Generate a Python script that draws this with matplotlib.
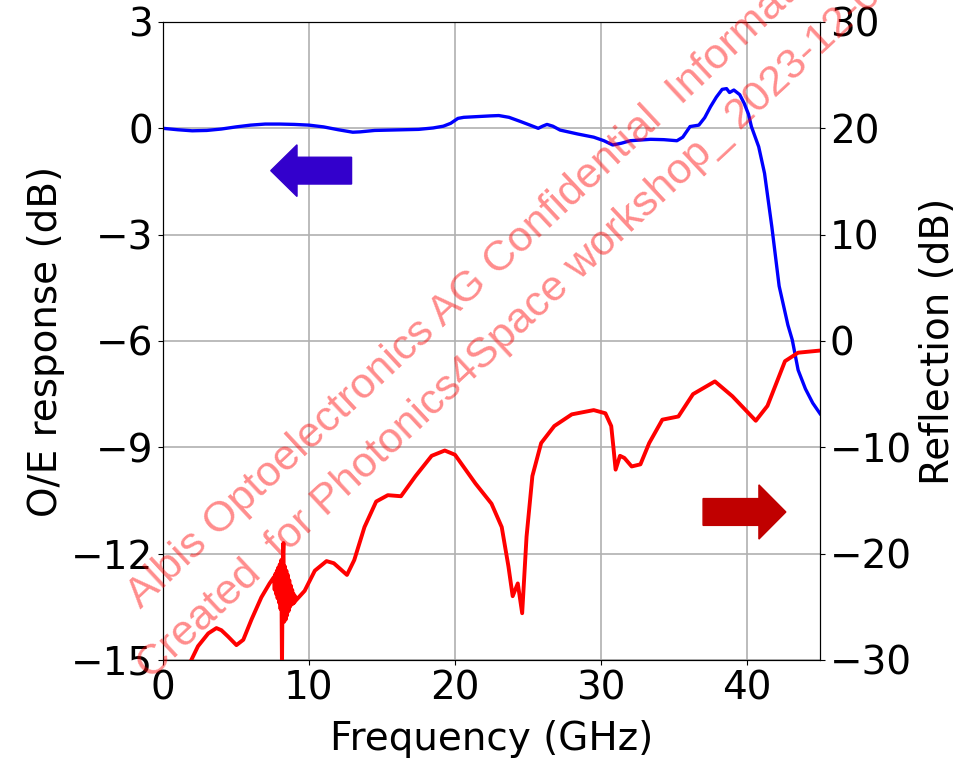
import numpy as np
import matplotlib.pyplot as plt
from matplotlib.patches import FancyArrow

# O/E response (left axis)
oe_freq = [0, 1, 2, 3, 4, 5, 6, 7, 8, 9, 10, 11, 12, 13, 13.5, 14.5, 15.5, 16.5, 17.5, 18.5,
           19.2, 19.7, 20.2, 20.6, 21.5, 22.4, 23.0, 23.7, 24.5, 25.2, 25.7, 26.0, 26.3, 26.7,
           27.2, 28.4, 29.5, 30.2, 30.8, 31.4, 32.0, 32.7, 33.4, 34.3, 35.2, 35.6, 36.1, 36.7,
           37.1, 37.5, 37.9, 38.3, 38.6, 38.8, 39.1, 39.5, 39.8, 40.1, 40.3, 40.8, 41.2, 41.7,
           42.2, 42.8, 43.1, 43.5, 44.0, 44.5, 45.0]
oe_db = [0.0, -0.04, -0.07, -0.06, -0.02, 0.04, 0.09, 0.12, 0.12, 0.11, 0.09, 0.04, -0.04, -0.11,
         -0.10, -0.06, -0.05, -0.04, -0.03, 0.01, 0.06, 0.14, 0.28, 0.31, 0.33, 0.35, 0.36, 0.31,
         0.19, 0.08, 0.0, 0.06, 0.11, 0.06, -0.05, -0.16, -0.25, -0.35, -0.47, -0.42, -0.35, -0.33,
         -0.31, -0.32, -0.35, -0.25, 0.05, 0.09, 0.30, 0.61, 0.88, 1.10, 1.12, 1.01, 1.08, 0.95,
         0.71, 0.40, 0.05, -0.52, -1.27, -2.78, -4.45, -5.55, -5.97, -6.82, -7.35, -7.75, -8.05]

# Reflection (right axis) (incl. the ringing near 8 GHz)
refl_freq = [1.94, 2.4, 3.1, 3.66, 4.0, 4.46, 5.03, 5.5, 6.06, 6.74, 7.3,
             7.60, 7.65, 7.70, 7.75, 7.80, 7.85, 7.90, 7.95, 8.00, 8.05, 8.10, 8.15, 8.20,
             8.25, 8.30, 8.35, 8.40, 8.45, 8.50, 8.55, 8.60, 8.65, 8.70, 8.75, 8.80, 8.85,
             8.90, 8.95, 9.00, 9.05, 9.10,
             9.7, 10.4, 11.2, 11.7, 12.6, 13.1, 13.8, 14.6, 15.4, 16.3, 17.3, 18.4,
             19.3, 20.0, 21.4, 22.5, 23.2, 23.66, 23.95, 24.3, 24.6, 24.75, 24.9, 25.3, 25.9,
             26.8, 28.0, 29.5, 30.3, 30.7, 30.85, 31.0, 31.3, 31.6, 32.1, 32.7, 33.3, 34.2,
             35.3, 36.3, 37.8, 39.0, 40.6, 41.4, 42.6, 43.5, 45.0]
refl_db = [-30.0, -28.7, -27.5, -27.0, -27.2, -27.8, -28.6, -28.1, -26.2, -24.1, -22.8,
           -22.2, -23.4, -21.9, -23.8, -21.6, -24.2, -21.3, -24.6, -21.0, -25.2, -20.6, -31.0,
           -20.8, -19.0, -26.4, -21.2, -26.2, -21.6, -25.8, -22.0, -25.4, -22.5, -25.0, -23.0,
           -24.8, -23.4, -24.7, -23.8, -24.6, -24.0, -24.4,
           -23.5, -21.6, -20.7, -20.9, -22.0, -20.6, -17.5, -15.1, -14.5, -14.6, -12.7,
           -10.8, -10.3, -10.7, -13.4, -15.3, -17.5, -21.2, -24.0, -22.8, -25.6, -22.0, -18.4,
           -12.7, -9.6, -8.0, -6.9, -6.5, -6.8, -8.0, -10.0, -12.1, -10.8, -11.0, -11.8, -11.6,
           -9.6, -7.4, -7.1, -5.0, -3.8, -5.2, -7.5, -6.1, -1.9, -1.1, -0.9]

left_ticks = [-15, -12, -9, -6, -3, 0, 3]
right_ticks = [-30, -20, -10, 0, 10, 20, 30]
x_ticks = [0, 10, 20, 30, 40]

watermark_1 = "Albis Optoelectronics AG Confidential  Information"
watermark_2 = "Created  for Photonics4Space workshop_ 2023-12-07"

plt.rcParams['font.size'] = 28

fig = plt.figure(figsize=(9.61, 7.58), dpi=100)
ax1 = fig.add_axes([0.1696, 0.1293, 0.6837, 0.8417])
ax1.plot(oe_freq, oe_db, color='blue', linewidth=2.4)
ax1.set_xlim(0, 45)
ax1.set_ylim(-15, 3)
ax1.set_xticks(x_ticks)
ax1.set_yticks(left_ticks)
ax1.grid(True, color='#b0b0b0', linewidth=1.2)
ax1.set_xlabel("Frequency (GHz)", labelpad=9)
ax1.set_ylabel("O/E response (dB)")

ax2 = ax1.twinx()
ax2.plot(refl_freq, refl_db, color='red', linewidth=2.8)
ax2.set_ylim(-30, 30)
ax2.set_yticks(right_ticks)
ax2.set_ylabel("Reflection (dB)", labelpad=5)

# direction arrows
ax1.add_patch(FancyArrow(0.287, 0.767, -0.123, 0, width=0.042, head_width=0.081,
                         head_length=0.040, length_includes_head=True,
                         color='#3300cc', transform=ax1.transAxes, zorder=5))
ax2.add_patch(FancyArrow(0.822, 0.232, 0.126, 0, width=0.042, head_width=0.085,
                         head_length=0.041, length_includes_head=True,
                         color='#c00000', transform=ax2.transAxes, zorder=5))

# watermark
for txt, x, y in [(watermark_1, 0.147, 0.196), (watermark_2, 0.157, 0.102)]:
    fig.text(x, y, txt, rotation=43, rotation_mode='anchor', ha='left', va='baseline',
             color='red', alpha=0.45, fontsize=31, family='Liberation Sans', zorder=10)

fig.savefig('out.png', dpi=100)
